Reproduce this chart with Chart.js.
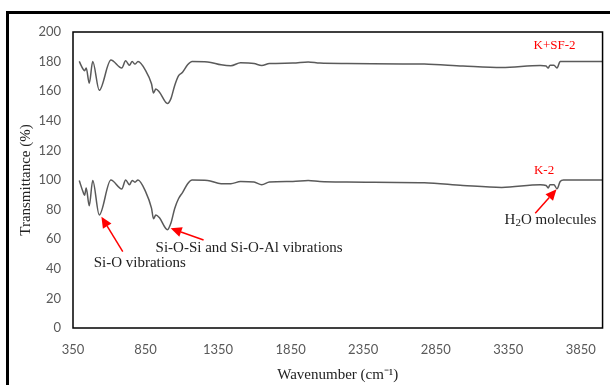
<!DOCTYPE html>
<html><head><meta charset="utf-8">
<script src="https://cdn.jsdelivr.net/npm/chart.js@4"></script>
<style>
html,body{margin:0;padding:0;background:#fff;overflow:hidden}
#wrap{position:relative;width:610px;height:385px}
#frame{position:absolute;left:6px;top:11px;width:640px;height:420px;border:3px solid #000;box-sizing:border-box}
canvas{position:absolute;left:0;top:0}
</style></head><body>
<div id="wrap"><div id="frame"></div><canvas id="c" width="610" height="385"></canvas></div>
<script>
const wavenumbers = [393,419,430,441,462,486,531,611,686,713,739,758,777,798,851,891,905,921,945,1001,1025,1051,1078,1105,1140,1171,1278,1371,1438,1505,1598,1651,1704,1865,1971,2051,2238,2771,3038,3305,3571,3611,3625,3638,3665,3686,3708,3731,4000];
const k2 = [99.7,92,89.7,94.6,82.6,99.7,76.4,100,94,100,96.8,99.7,98.5,100,92,81,73.8,76.4,74.6,66.4,70.9,80.8,87.5,91.5,97.5,100,99.7,97.5,97.5,99,98.6,96.8,98.6,99,99.7,99,98.6,98.1,96.3,95,96.8,96.3,94.6,96.8,96.8,94.1,99,100,100];
const ksf2 = [180.1,175,173.9,175.6,165.4,180,160.6,181,175.6,180.5,177.6,180,178.3,180,173.9,165,158.8,161.5,159.5,151.7,155,163.9,170.5,172.8,177.8,180,179.8,177.8,177.2,179.2,178.7,177.4,178.7,179,179.8,179,178.7,178.3,177,176,177.4,177,175.6,177.6,177.6,175.6,180,180,180];
const seriesNames = ['K-2','K+SF-2'];
const xTicks = [350,850,1350,1850,2350,2850,3350,3850];
const yTicks = [0,20,40,60,80,100,120,140,160,180,200];

const serif = "'Liberation Serif', serif";
const sans = "Lato, 'Liberation Sans', sans-serif";

// each text: parts [text, isSubscript]
const texts = [
  {x:3669,y:190.5,parts:[['K+SF-2',0]],color:'#ff0000',size:13},
  {x:3597,y:106.4,parts:[['K-2',0]],color:'#ff0000',size:13},
  {x:3641,y:73,parts:[['H',0],['2',1],['O molecules',0]],color:'#222',size:15},
  {x:1564,y:54,parts:[['Si-O-Si and Si-O-Al vibrations',0]],color:'#222',size:15},
  {x:810,y:43.6,parts:[['Si-O vibrations',0]],color:'#222',size:15}
];
const arrows = [
  {x1:3536,y1:77.5,x2:3683,y2:93.7},
  {x1:693,y1:51.6,x2:546,y2:75.2},
  {x1:1250,y1:59.5,x2:1023,y2:67.4}
];

const overlay = {
  id:'overlay',
  afterDraw(chart){
    const {ctx, chartArea:a, scales:{x,y}} = chart;
    ctx.save();
    ctx.strokeStyle='#000'; ctx.lineWidth=1.5;
    ctx.strokeRect(a.left,a.top,a.right-a.left,a.bottom-a.top);
    ctx.textAlign='left'; ctx.textBaseline='middle';
    texts.forEach(o=>{
      ctx.fillStyle=o.color;
      const fnt = p => (p[1] ? Math.round(o.size*0.7) : o.size)+'px '+serif;
      let w=0;
      o.parts.forEach(p=>{ctx.font=fnt(p); w+=ctx.measureText(p[0]).width;});
      let cx = x.getPixelForValue(o.x) - w/2;
      const cy = y.getPixelForValue(o.y);
      o.parts.forEach(p=>{
        ctx.font=fnt(p);
        ctx.fillText(p[0], cx, cy + (p[1] ? o.size*0.22 : 0));
        cx += ctx.measureText(p[0]).width;
      });
    });
    ctx.strokeStyle='#ff0000'; ctx.fillStyle='#ff0000'; ctx.lineWidth=1.5;
    arrows.forEach(o=>{
      const x1=x.getPixelForValue(o.x1), y1=y.getPixelForValue(o.y1);
      const x2=x.getPixelForValue(o.x2), y2=y.getPixelForValue(o.y2);
      const ang=Math.atan2(y2-y1,x2-x1), L=11, W=5;
      const bx=x2-L*Math.cos(ang), by=y2-L*Math.sin(ang);
      ctx.beginPath(); ctx.moveTo(x1,y1); ctx.lineTo(bx,by); ctx.stroke();
      ctx.beginPath(); ctx.moveTo(x2,y2);
      ctx.lineTo(bx+W*Math.sin(ang), by-W*Math.cos(ang));
      ctx.lineTo(bx-W*Math.sin(ang), by+W*Math.cos(ang));
      ctx.closePath(); ctx.fill();
    });
    ctx.restore();
  }
};

new Chart(document.getElementById('c'), {
  type:'line',
  data:{datasets:[
    {label:seriesNames[0], data:wavenumbers.map((w,i)=>({x:w,y:k2[i]}))},
    {label:seriesNames[1], data:wavenumbers.map((w,i)=>({x:w,y:ksf2[i]}))}
  ].map(d=>Object.assign(d,{borderColor:'#5a5a5a',borderWidth:1.5,pointRadius:0,cubicInterpolationMode:'monotone',fill:false}))},
  options:{
    responsive:false, animation:false,
    layout:{padding:{left:0,top:32,right:3,bottom:0}},
    plugins:{legend:{display:false},tooltip:{enabled:false}},
    scales:{
      x:{type:'linear',min:350,max:4000,
        afterBuildTicks(s){s.ticks = xTicks.map(v=>({value:v}));},
        afterFit(s){s.height=57;},
        grid:{display:false,drawTicks:false},border:{display:false},
        ticks:{padding:14,color:'#595959',font:{family:sans,size:13},maxRotation:0,autoSkip:false,callback:v=>String(v)},
        title:{display:true,text:'Wavenumber (cm\u207B\u00B9)',color:'#222',font:{family:serif,size:15},padding:{top:0,bottom:1}}
      },
      y:{min:0,max:200,
        afterBuildTicks(s){s.ticks = yTicks.map(v=>({value:v}));},
        afterFit(s){s.width=73;},
        grid:{display:false,drawTicks:false},border:{display:false},
        ticks:{padding:12,color:'#595959',font:{family:sans,size:13},callback:v=>String(v)},
        title:{display:true,text:'Transmittance (%)',color:'#222',font:{family:serif,size:15},padding:{top:17,bottom:0}}
      }
    }
  },
  plugins:[overlay]
});
</script></body></html>
